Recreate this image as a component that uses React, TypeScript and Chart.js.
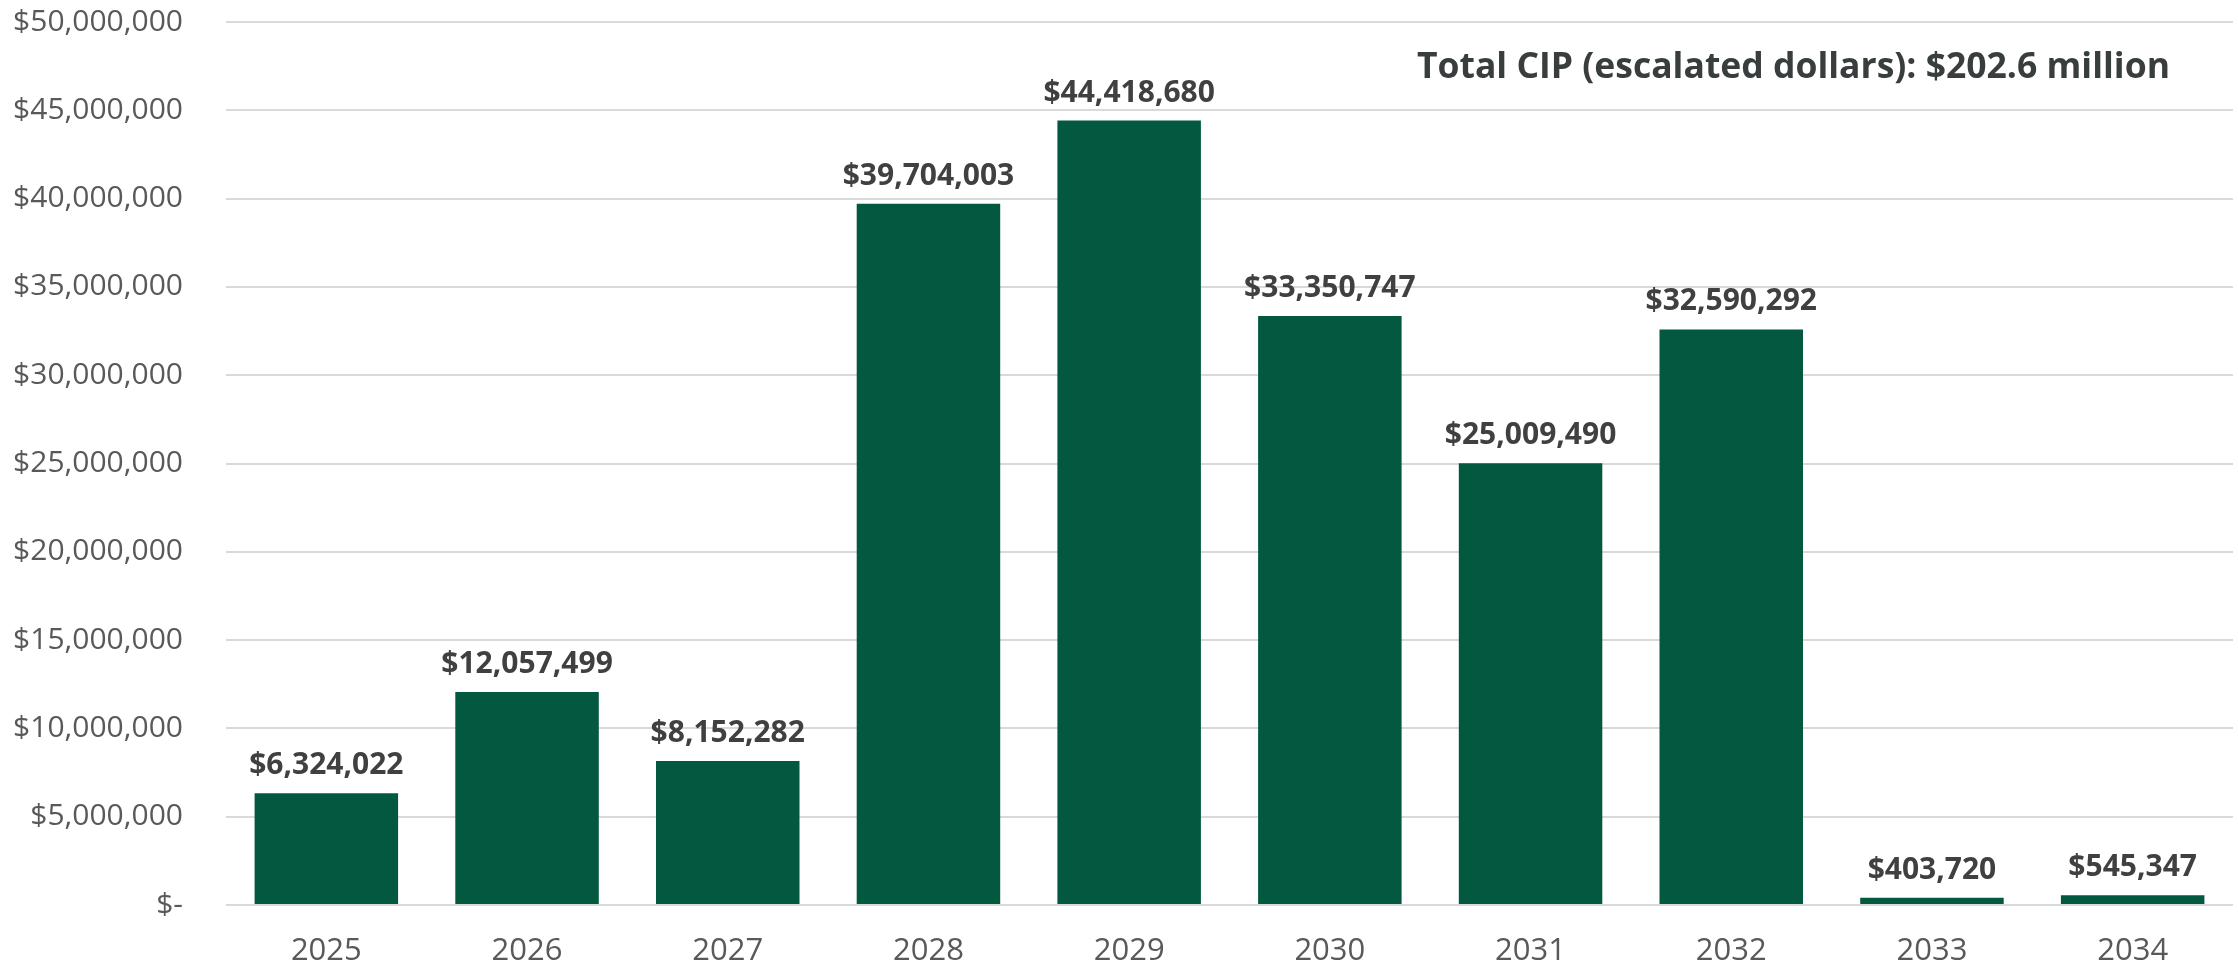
import React, { useEffect, useRef } from "react";
import { Chart, registerables } from "chart.js";

Chart.register(...registerables);

const years = ["2025", "2026", "2027", "2028", "2029", "2030", "2031", "2032", "2033", "2034"];
const values = [6324022, 12057499, 8152282, 39704003, 44418680, 33350747, 25009490, 32590292, 403720, 545347];
const titleText = "Total CIP (escalated dollars): $202.6 million";

const FONT = "'Open Sans', 'Noto Sans', sans-serif";

const fmt = (v: number) => (v === 0 ? "$-" : "$" + Math.round(v).toLocaleString("en-US"));

const labelPlugin = {
  id: "barLabels",
  afterDatasetsDraw(chart: any) {
    const ctx = chart.ctx;
    const meta = chart.getDatasetMeta(0);
    ctx.save();
    ctx.font = `bold 30px ${FONT}`;
    ctx.fillStyle = "#404040";
    ctx.textAlign = "center";
    ctx.textBaseline = "alphabetic";
    meta.data.forEach((bar: any, i: number) => {
      ctx.fillText(fmt(values[i]), bar.x, bar.y - 19);
    });
    const area = chart.chartArea;
    ctx.font = `bold 35.5px ${FONT}`;
    ctx.fillStyle = "#383d3d";
    ctx.textAlign = "right";
    ctx.textBaseline = "middle";
    ctx.fillText(titleText, area.right - 63, area.top + 46);
    ctx.restore();
  },
};

export default function App() {
  const ref = useRef<HTMLCanvasElement | null>(null);
  useEffect(() => {
    document.body.style.margin = "0";
    const chart = new Chart(ref.current!, {
      type: "bar",
      data: {
        labels: years,
        datasets: [
          {
            data: values,
            backgroundColor: "#02593f",
            categoryPercentage: 1,
            barPercentage: 0.715,
          },
        ],
      },
      options: {
        animation: false,
        responsive: false,
        maintainAspectRatio: false,
        layout: { padding: { top: 22, right: 5, left: 0, bottom: 0 } },
        plugins: { legend: { display: false }, tooltip: { enabled: false }, title: { display: false } },
        scales: {
          x: {
            grid: { display: false, drawTicks: false },
            border: { display: false },
            ticks: { color: "#595959", font: { family: FONT, size: 31 }, padding: 28 },
            afterFit: (s: any) => {
              s.height = 65;
              s.paddingLeft = 0;
              s.paddingRight = 0;
            },
          },
          y: {
            min: 0,
            max: 50000000,
            ticks: {
              stepSize: 5000000,
              color: "#595959",
              font: { family: FONT, size: 30 },
              padding: 43,
              callback: (v: any) => fmt(Number(v)),
            },
            grid: { color: "#d9d9d9", lineWidth: 2, drawTicks: false },
            border: { display: false },
            afterFit: (s: any) => {
              s.width = 226;
              s.paddingTop = 0;
              s.paddingBottom = 0;
            },
          },
        },
      },
      plugins: [labelPlugin],
    });
    return () => chart.destroy();
  }, []);
  return (
    <div style={{ position: "absolute", left: 0, top: 0, width: 2238, height: 970, background: "#fff" }}>
      <canvas ref={ref} width={2238} height={970} />
    </div>
  );
}
